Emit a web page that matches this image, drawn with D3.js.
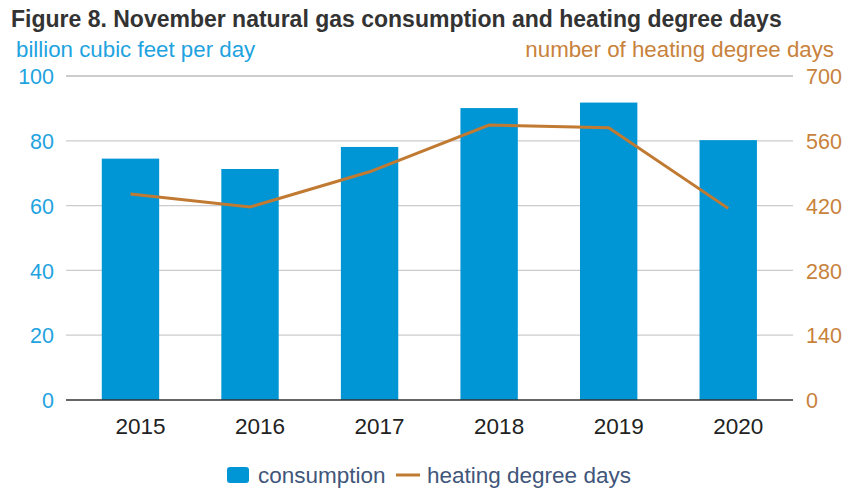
<!DOCTYPE html>
<html>
<head>
<meta charset="utf-8">
<script src="https://cdn.jsdelivr.net/npm/d3@7"></script>
<style>
  body { margin: 0; background: #fff; }
  text { font-family: "Liberation Sans", Arial, sans-serif; }
</style>
</head>
<body>
<div id="chart"></div>
<script>
var WIDTH = 847;
var HEIGHT = 489;

var years = ["2015", "2016", "2017", "2018", "2019", "2020"];
var consumption = [74.5, 71.3, 78.1, 90.1, 91.8, 80.2];
var hdd = [445, 417, 493, 594, 588, 414];
var leftTicks = [0, 20, 40, 60, 80, 100];
var rightTicks = [0, 140, 280, 420, 560, 700];

var BLUE = "#0096d6";
var ORANGE = "#c17a32";
var FONT = "Liberation Sans, Arial, sans-serif";

var svg = d3.select("#chart").append("svg")
    .attr("width", WIDTH)
    .attr("height", HEIGHT);

var x = d3.scaleBand().domain(years).range([70.7, 788]).paddingInner(0.52).paddingOuter(0.26);
var yL = d3.scaleLinear().domain([0, 100]).range([400, 76]);
var yR = d3.scaleLinear().domain([0, 700]).range([400, 76]);

// title
svg.append("text")
    .attr("x", 11).attr("y", 27)
    .attr("font-size", 23).attr("font-weight", "bold").attr("fill", "#333")
    .text("Figure 8. November natural gas consumption and heating degree days");

svg.append("text")
    .attr("x", 16).attr("y", 57)
    .attr("font-size", 22.3).attr("fill", "#1fa3e0")
    .text("billion cubic feet per day");

svg.append("text")
    .attr("x", 834).attr("y", 57).attr("text-anchor", "end")
    .attr("font-size", 22.3).attr("fill", "#c8823c")
    .text("number of heating degree days");

// gridlines
svg.append("g").selectAll("line")
    .data(leftTicks.slice(1))
    .enter().append("line")
    .attr("x1", 66).attr("x2", 793)
    .attr("y1", function(d) { return yL(d); })
    .attr("y2", function(d) { return yL(d); })
    .attr("stroke", "#cccccc")
    .attr("stroke-width", function(d) { return d == 100 ? 2 : 1.2; });

// bars
svg.append("g").selectAll("rect")
    .data(years)
    .enter().append("rect")
    .attr("x", function(d) { return x(d); })
    .attr("width", x.bandwidth())
    .attr("y", function(d, i) { return yL(consumption[i]); })
    .attr("height", function(d, i) { return 400 - yL(consumption[i]); })
    .attr("fill", BLUE);

// zero line
svg.append("line")
    .attr("x1", 66).attr("x2", 793)
    .attr("y1", 400).attr("y2", 400)
    .attr("stroke", "#333").attr("stroke-width", 1.5);

// line
var line = d3.line()
    .x(function(d, i) { return x(years[i]) + x.bandwidth() / 2; })
    .y(function(d) { return yR(d); });

svg.append("path")
    .datum(hdd)
    .attr("d", line)
    .attr("fill", "none")
    .attr("stroke", ORANGE)
    .attr("stroke-width", 3);

// left axis
var axL = svg.append("g")
    .attr("transform", "translate(54,0)")
    .call(d3.axisLeft(yL).tickValues(leftTicks).tickSize(0).tickPadding(0));
axL.select(".domain").remove();
axL.selectAll("text").attr("font-size", 21.5).attr("fill", "#1fa3e0")
    .attr("font-family", FONT).attr("dy", "0.36em");

// right axis
var axR = svg.append("g")
    .attr("transform", "translate(806,0)")
    .call(d3.axisRight(yR).tickValues(rightTicks).tickSize(0).tickPadding(0));
axR.select(".domain").remove();
axR.selectAll("text").attr("font-size", 21.5).attr("fill", "#c8823c")
    .attr("font-family", FONT).attr("dy", "0.36em");

// x axis (labels sit a bit right of the bar centres in the original)
var axX = svg.append("g")
    .attr("transform", "translate(10,418)")
    .call(d3.axisBottom(x).tickSize(0).tickPadding(0));
axX.select(".domain").remove();
axX.selectAll("text").attr("font-size", 22.5).attr("fill", "#222")
    .attr("font-family", FONT);

// legend
var lg = svg.append("g");
lg.append("rect")
    .attr("x", 227).attr("y", 467).attr("width", 22).attr("height", 16)
    .attr("rx", 3).attr("fill", BLUE);
lg.append("text")
    .attr("x", 258).attr("y", 483)
    .attr("font-size", 22.5).attr("fill", "#41567a")
    .text("consumption");
lg.append("line")
    .attr("x1", 396).attr("x2", 420).attr("y1", 475).attr("y2", 475)
    .attr("stroke", ORANGE).attr("stroke-width", 3);
lg.append("text")
    .attr("x", 427).attr("y", 483)
    .attr("font-size", 22.5).attr("fill", "#41567a")
    .text("heating degree days");
</script>
</body>
</html>
